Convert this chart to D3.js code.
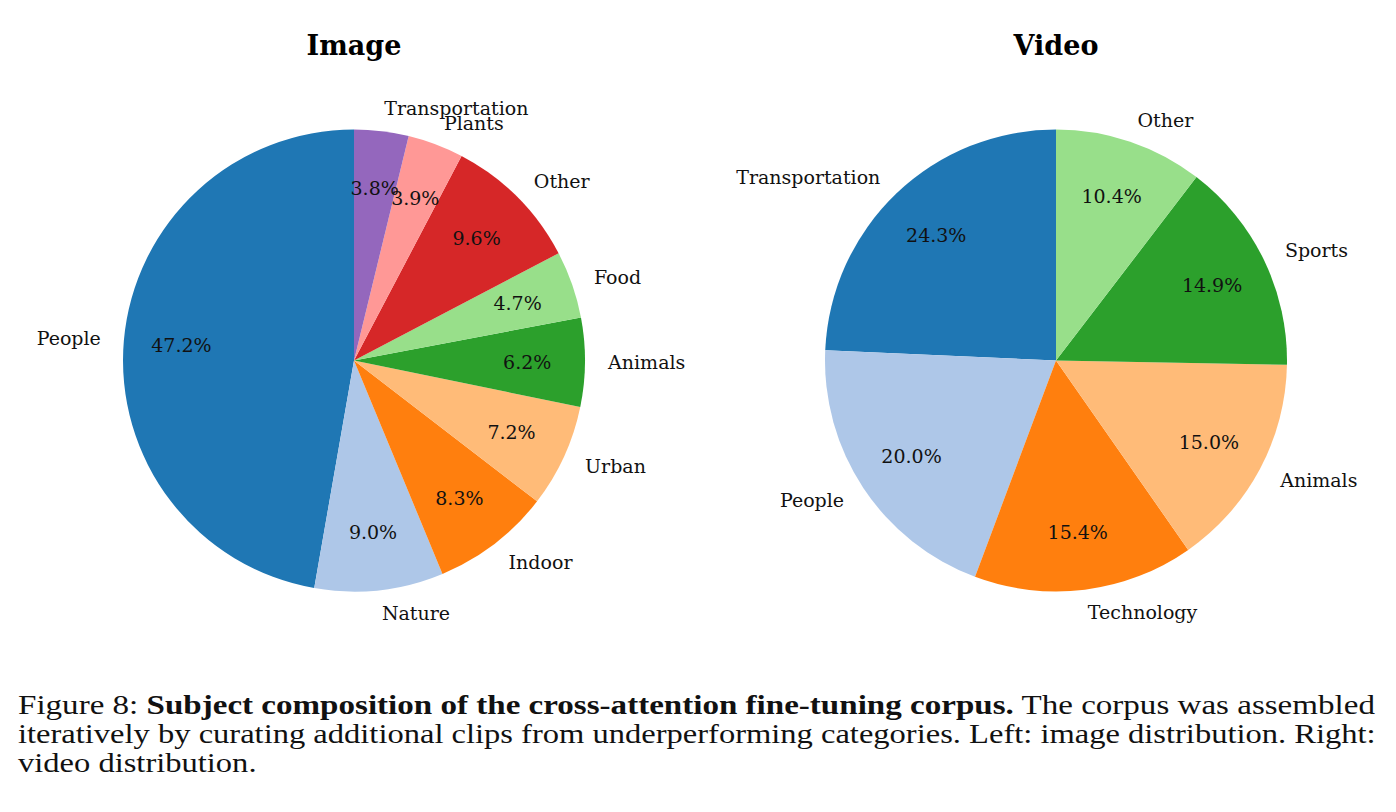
<!DOCTYPE html>
<html>
<head>
<meta charset="utf-8">
<script src="https://cdn.jsdelivr.net/npm/d3@7"></script>
<style>
  body { margin: 0; background: #fff; }
  svg { display: block; }
</style>
</head>
<body>
<div id="chart"></div>
<script>
// data
const imageLabels = ["People", "Nature", "Indoor", "Urban", "Animals", "Food", "Other", "Plants", "Transportation"];
const imageValues = [47.2, 9.0, 8.3, 7.2, 6.2, 4.7, 9.6, 3.9, 3.8];

const videoLabels = ["Transportation", "People", "Technology", "Animals", "Sports", "Other"];
const videoValues = [24.3, 20.0, 15.4, 15.0, 14.9, 10.4];

const titles = ["Image", "Video"];

// tab20 colours, same order as matplotlib
const tab20 = ["#1f77b4", "#aec7e8", "#ff7f0e", "#ffbb78", "#2ca02c", "#98df8a",
               "#d62728", "#ff9896", "#9467bd", "#c5b0d5"];

const W = 1396, H = 812;
const svg = d3.select("#chart").append("svg").attr("width", W).attr("height", H);

const serif = "'DejaVu Serif', serif";

function drawPie(cx, cy, r, labels, values, title) {
    const g = svg.append("g").attr("transform", `translate(${cx},${cy})`);
    const color = d3.scaleOrdinal().domain(labels).range(tab20);

    // matplotlib: startangle=90, counterclockwise
    const pie = d3.pie().sort(null).value(d => d.v).startAngle(0).endAngle(-2 * Math.PI);
    const data = labels.map((l, i) => ({ l: l, v: values[i] }));
    const arcs = pie(data);
    const arc = d3.arc().innerRadius(0).outerRadius(r);

    g.selectAll("path.slice")
        .data(arcs)
        .enter()
        .append("path")
        .attr("class", "slice")
        .attr("d", arc)
        .attr("fill", d => color(d.data.l));

    const mid = d => (d.startAngle + d.endAngle) / 2;
    const total = d3.sum(values);

    // percentage texts at 0.75 r
    g.selectAll("text.pct")
        .data(arcs)
        .enter()
        .append("text")
        .attr("class", "pct")
        .attr("x", d => 0.75 * r * Math.sin(mid(d)))
        .attr("y", d => -0.75 * r * Math.cos(mid(d)))
        .attr("dy", "0.35em")
        .attr("text-anchor", "middle")
        .style("font-family", serif)
        .style("font-size", "19px")
        .style("fill", "#111")
        .text(d => (d.data.v / total * 100).toFixed(1) + "%");

    // category labels at 1.1 r
    g.selectAll("text.lab")
        .data(arcs)
        .enter()
        .append("text")
        .attr("class", "lab")
        .attr("x", d => 1.1 * r * Math.sin(mid(d)))
        .attr("y", d => -1.1 * r * Math.cos(mid(d)))
        .attr("dy", "0.35em")
        .attr("text-anchor", d => Math.sin(mid(d)) > 0 ? "start" : "end")
        .style("font-family", serif)
        .style("font-size", "19px")
        .style("fill", "#111")
        .text(d => d.data.l);

    svg.append("text")
        .attr("x", cx)
        .attr("y", 55)
        .attr("text-anchor", "middle")
        .style("font-family", serif)
        .style("font-weight", "bold")
        .style("font-size", "27px")
        .text(title);
}

drawPie(354, 360.5, 231, imageLabels, imageValues, titles[0]);
drawPie(1056, 360.5, 231, videoLabels, videoValues, titles[1]);

// caption, justified like the LaTeX source (glyphs stretched to a Palatino-like width)
const captionLines = [
    [["Figure 8: ", false], ["Subject composition of the cross-attention fine-tuning corpus.", true], [" The corpus was assembled", false]],
    [["iteratively by curating additional clips from underperforming categories. Left: image distribution. Right:", false]],
    [["video distribution.", false]]
];
const capLeft = 18, capRight = 1376;
const capY = [714, 743, 772];
let lastScale = 1;

captionLines.forEach((parts, i) => {
    const t = svg.append("text")
        .style("font-family", "'Liberation Serif', serif")
        .style("font-size", "28px")
        .style("fill", "#111");
    parts.forEach(p => {
        t.append("tspan").style("font-weight", p[1] ? "bold" : "normal").text(p[0]);
    });
    let sx = lastScale;
    if (i < captionLines.length - 1) {
        const natural = t.node().getComputedTextLength();
        sx = (capRight - capLeft) / natural;
        lastScale = sx;
    }
    t.attr("transform", `translate(${capLeft},${capY[i]}) scale(${sx},1)`);
});
</script>
</body>
</html>
